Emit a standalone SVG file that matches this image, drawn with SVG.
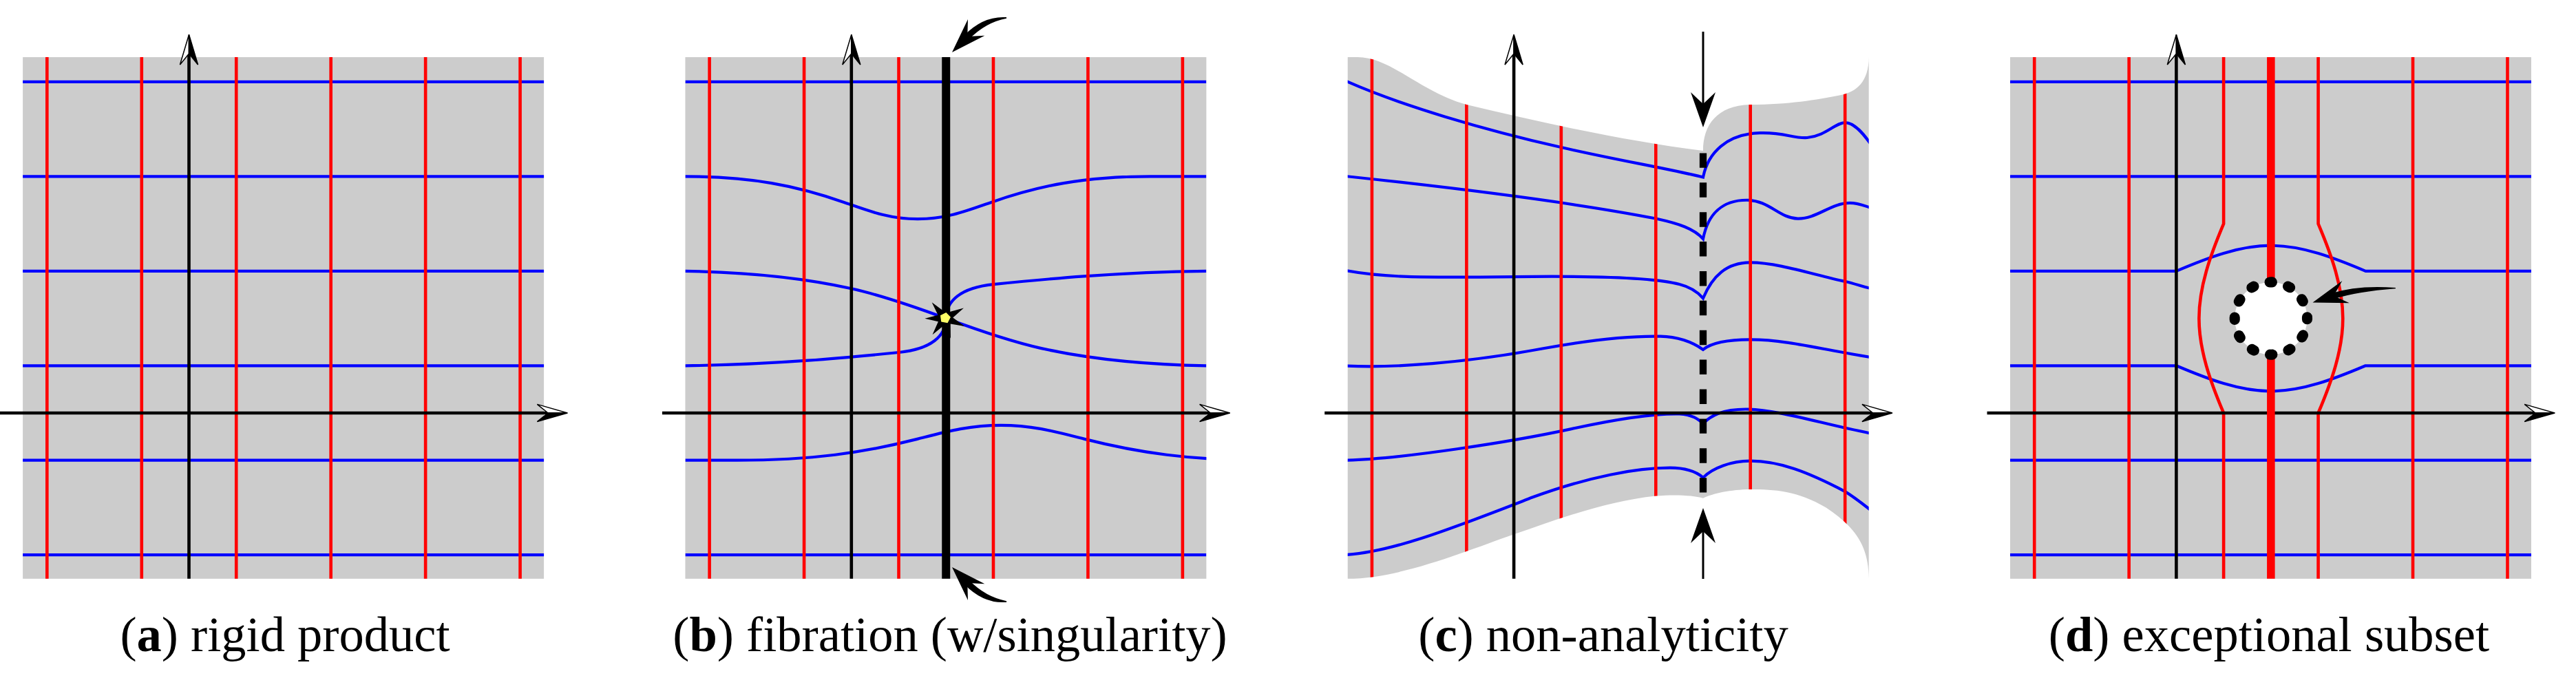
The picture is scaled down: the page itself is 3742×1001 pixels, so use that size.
<svg xmlns="http://www.w3.org/2000/svg" xmlns:xlink="http://www.w3.org/1999/xlink" width="3742" height="1001" viewBox="0 0 3742 1001">
<style>
.sq{fill:#cccccc}
.red{fill:none;stroke:#ff0000;stroke-width:0.0335}
.blue{fill:none;stroke:#0000ff;stroke-width:0.0306}
.axis{fill:none;stroke:#000;stroke-width:0.0335}
.ahw{fill:#fff;stroke:#000;stroke-width:0.011}
.ahb{fill:#000;stroke:#000;stroke-width:0.011}
.blk{fill:#000}
.cap{font-family:"Liberation Serif","Times New Roman",serif;font-size:72.5px;fill:#000;text-anchor:middle}
</style>
<defs>
<rect id="sq" class="sq" x="-1.756" y="-1.752" width="5.507" height="5.513"/>
<g id="axes">
<path class="axis" d="M-2 0H3.8M0 -1.752V3.8"/>
<polygon class="ahw" points="4,0 3.68,0.092 3.795,0"/>
<polygon class="ahb" points="4,0 3.795,0 3.68,-0.092"/>
<polygon class="ahw" points="0,4 -0.095,3.681 0,3.798"/>
<polygon class="ahb" points="0,4 0,3.798 0.095,3.681"/>
</g>
<path id="vgrid" class="red" d="M-1.5 -1.752V3.761M-0.5 -1.752V3.761M0.5 -1.752V3.761M1.5 -1.752V3.761M2.5 -1.752V3.761M3.5 -1.752V3.761"/>
<path id="hgrid" class="blue" d="M-1.756 3.5H3.751M-1.756 2.5H3.751M-1.756 1.5H3.751M-1.756 0.5H3.751M-1.756 -0.5H3.751M-1.756 -1.5H3.751"/>
<path id="head" class="blk" d="M0 0L50.5 -17L32 0L50.5 17Z"/>
<clipPath id="clipB" clipPathUnits="userSpaceOnUse"><rect x="-1.756" y="-1.752" width="5.507" height="5.513"/></clipPath>
<clipPath id="clipC" clipPathUnits="userSpaceOnUse"><path d="M-1.756 3.761L-1.652 3.761C-1.3 3.761 -1.0 3.40 -0.5 3.259C0.333 3.06 1.2 2.87 2.0 2.772C2.0 3.05 2.15 3.25 2.5 3.26C2.9 3.26 3.2 3.31 3.45 3.36C3.62 3.39 3.751 3.5 3.751 3.761L3.751 -1.752C3.751 -1.4 3.6 -1.2 3.3 -1.0C3.0 -0.82 2.75 -0.807 2.5 -0.807C2.3 -0.807 2.1 -0.85 2.0 -0.9C1.9 -0.87 1.7 -0.86 1.5 -0.877C1.0 -0.929 0.5 -1.108 0 -1.283C-0.5 -1.458 -1.2 -1.752 -1.756 -1.752Z"/></clipPath>
</defs>

<g id="panel-a">
<g transform="translate(274.5,600) scale(137.45,-137.45)">
<use xlink:href="#sq"/>
<use xlink:href="#hgrid"/>
<use xlink:href="#vgrid"/>
<use xlink:href="#axes"/>
</g>
<text class="cap" x="414" y="946">(<tspan font-weight="bold">a</tspan>) rigid product</text>
</g>

<g id="panel-b">
<g transform="translate(1236.8,600) scale(137.45,-137.45)">
<use xlink:href="#sq"/>
<g clip-path="url(#clipB)">
<path class="blue" d="M-1.756 3.5H3.751M-1.756 -1.5H3.751"/>
<path class="blue" d="M-1.756 2.5C-1.056 2.5 -0.578 2.403 -0.078 2.227C0.182 2.136 0.4 2.05 0.7 2.05C1.0 2.05 1.218 2.136 1.478 2.227C1.978 2.403 2.456 2.5 3.156 2.5L3.751 2.5"/>
<path class="blue" d="M-1.756 1.5C-1.167 1.49 -0.583 1.445 0 1.315C0.333 1.241 0.667 1.123 1 1C1.333 0.877 1.667 0.759 2 0.685C2.583 0.555 3.167 0.51 3.751 0.5"/>
<path class="blue" d="M-1.756 0.5C-0.8 0.51 0 0.59 0.5 0.64C0.85 0.675 1 0.82 1 1C1 1.18 1.15 1.325 1.5 1.36C2 1.41 2.8 1.49 3.751 1.5"/>
<path class="blue" d="M-1.756 -0.5L-1.21 -0.5C-0.415 -0.5 0.128 -0.42 0.696 -0.2756C0.991 -0.2007 1.239 -0.13 1.58 -0.13C1.921 -0.13 2.169 -0.2007 2.464 -0.2756C3.032 -0.42 3.575 -0.5 4.37 -0.5"/>
</g>
<use xlink:href="#vgrid"/>
<use xlink:href="#axes"/>
<path d="M1 -1.752V3.761" fill="none" stroke="#000" stroke-width="0.0873"/>
</g>
<g id="singularity" transform="translate(1373,462) rotate(10)">
<polygon class="blk" points="0,-31 5,-10 24,-19 11,-2.5 30,7 9,7 13,28 0,11 -14,27 -9,7 -29,6 -11,-2.5 -23,-19 -5,-10"/>
<polygon fill="#ffff66" points="0,-8 7.6,-2.5 4.7,6.5 -4.7,6.5 -7.6,-2.5"/>
</g>
<g id="arrow-b-top" transform="matrix(0.697,-0.717,0.717,0.697,1383,76)">
<use xlink:href="#head"/>
<path class="blk" d="M30 -4.5Q70 -4.5 91.6 21.2L90.4 22.4Q65 4.5 30 4.5Z"/>
</g>
<g id="arrow-b-bottom" transform="matrix(0.697,0.717,0.717,-0.697,1383,824)">
<use xlink:href="#head"/>
<path class="blk" d="M30 -4.5Q70 -4.5 91.6 21.2L90.4 22.4Q65 4.5 30 4.5Z"/>
</g>
<text class="cap" x="1380" y="946">(<tspan font-weight="bold">b</tspan>) fibration (w/singularity)</text>
</g>

<g id="panel-c">
<g transform="translate(2199.1,600) scale(137.45,-137.45)">
<path class="sq" d="M-1.756 3.761L-1.652 3.761C-1.3 3.761 -1.0 3.40 -0.5 3.259C0.333 3.06 1.2 2.87 2.0 2.772C2.0 3.05 2.15 3.25 2.5 3.26C2.9 3.26 3.2 3.31 3.45 3.36C3.62 3.39 3.751 3.5 3.751 3.761L3.751 -1.752C3.751 -1.4 3.6 -1.2 3.3 -1.0C3.0 -0.82 2.75 -0.807 2.5 -0.807C2.3 -0.807 2.1 -0.85 2.0 -0.9C1.9 -0.87 1.7 -0.86 1.5 -0.877C1.0 -0.929 0.5 -1.108 0 -1.283C-0.5 -1.458 -1.2 -1.752 -1.756 -1.752Z"/>
<g clip-path="url(#clipC)">
<path class="blue" d="M-1.8 3.52C-1.2 3.25 -0.3 2.99 0.5 2.808C1.1 2.67 1.6 2.59 2 2.492C2.05 2.75 2.25 2.95 2.6 2.96C2.85 2.97 2.95 2.9 3.1 2.91C3.3 2.93 3.4 3.07 3.5 3.07C3.6 3.07 3.7 2.95 3.8 2.8"/>
<path class="blue" d="M-1.8 2.505C-1 2.42 0.5 2.25 1.5 2.055C1.75 2.0 1.9 1.95 2 1.841C2.05 2.1 2.2 2.25 2.46 2.25C2.7 2.25 2.8 2.06 3.0 2.055C3.2 2.05 3.35 2.22 3.55 2.22C3.65 2.22 3.7 2.19 3.8 2.16"/>
<path class="blue" d="M-1.8 1.51C-1.4 1.43 -1 1.43 0 1.44C0.8 1.45 1.5 1.43 1.75 1.36C1.87 1.33 1.95 1.27 2 1.213C2.1 1.45 2.25 1.59 2.5 1.59C2.8 1.59 3.2 1.45 3.5 1.39C3.6 1.37 3.7 1.33 3.8 1.31"/>
<path class="blue" d="M-1.8 0.5C-1.3 0.47 -0.5 0.53 0.3 0.68C0.9 0.79 1.3 0.815 1.55 0.81C1.75 0.805 1.9 0.74 2 0.67C2.1 0.75 2.3 0.775 2.5 0.775C2.9 0.775 3.3 0.66 3.8 0.585"/>
<path class="blue" d="M-1.8 -0.5C-1.2 -0.49 0 -0.3 0.6 -0.17C1.1 -0.06 1.5 -0.005 1.75 -0.01C1.9 -0.02 1.95 -0.07 2 -0.111C2.08 -0.03 2.2 0.04 2.45 0.04C2.8 0.04 3.3 -0.13 3.8 -0.22"/>
<path class="blue" d="M-1.8 -1.5C-1.3 -1.48 -0.6 -1.2 0.2 -0.89C0.8 -0.67 1.3 -0.58 1.65 -0.58C1.85 -0.58 1.95 -0.64 2 -0.683C2.1 -0.58 2.3 -0.507 2.5 -0.507C2.8 -0.507 3.1 -0.62 3.5 -0.83C3.6 -0.89 3.7 -0.97 3.8 -1.05"/>
<use xlink:href="#vgrid"/>
</g>
<use xlink:href="#axes"/>
<path d="M2 2.747V-0.842" fill="none" stroke="#000" stroke-width="0.075" stroke-dasharray="0.156 0.156"/>
</g>
<g id="arrow-c-down">
<path d="M2474 46V156" stroke="#000" stroke-width="3" fill="none"/>
<path class="blk" d="M2474 185L2456 134L2474 151L2492 134Z"/>
</g>
<g id="arrow-c-up">
<path d="M2474 841V770" stroke="#000" stroke-width="3" fill="none"/>
<path class="blk" d="M2474 738L2456 789L2474 772L2492 789Z"/>
</g>
<text class="cap" x="2329" y="946">(<tspan font-weight="bold">c</tspan>) non-analyticity</text>
</g>

<g id="panel-d">
<g transform="translate(3161.4,600) scale(137.45,-137.45)">
<use xlink:href="#sq"/>
<path class="blue" d="M-1.756 3.5H3.751M-1.756 2.5H3.751M-1.756 -0.5H3.751M-1.756 -1.5H3.751"/>
<path class="blue" d="M-1.756 1.5L0 1.5C0.333 1.641 0.667 1.77 1 1.77C1.333 1.77 1.667 1.641 2 1.5L3.751 1.5"/>
<path class="blue" d="M-1.756 0.5L0 0.5C0.333 0.359 0.667 0.23 1 0.23C1.333 0.23 1.667 0.359 2 0.5L3.751 0.5"/>
<path class="red" d="M-1.5 -1.752V3.761M-0.5 -1.752V3.761M2.5 -1.752V3.761M3.5 -1.752V3.761"/>
<path class="red" d="M0.5 -1.752L0.5 0C0.359 0.333 0.24 0.667 0.24 1C0.24 1.333 0.359 1.667 0.5 2L0.5 3.761"/>
<path class="red" d="M1.5 -1.752L1.5 0C1.641 0.333 1.76 0.667 1.76 1C1.76 1.333 1.641 1.667 1.5 2L1.5 3.761"/>
<use xlink:href="#axes"/>
<path d="M1 -1.752V3.761" fill="none" stroke="#ff0000" stroke-width="0.084"/>
<circle cx="1" cy="1" r="0.383" fill="#fff" stroke="#000" stroke-width="0.11" stroke-linecap="round" stroke-dasharray="0.025 0.1755" stroke-dashoffset="0.0125"/>
</g>
<g id="arrow-d" transform="matrix(0.952,-0.307,0.307,0.952,3359.5,439.6)">
<use xlink:href="#head"/>
<path class="blk" d="M30 -4.5Q70 -4.5 121.2 16.3L120.8 17.7Q66 4.5 30 4.5Z"/>
</g>
<text class="cap" x="3296" y="946">(<tspan font-weight="bold">d</tspan>) exceptional subset</text>
</g>
</svg>
